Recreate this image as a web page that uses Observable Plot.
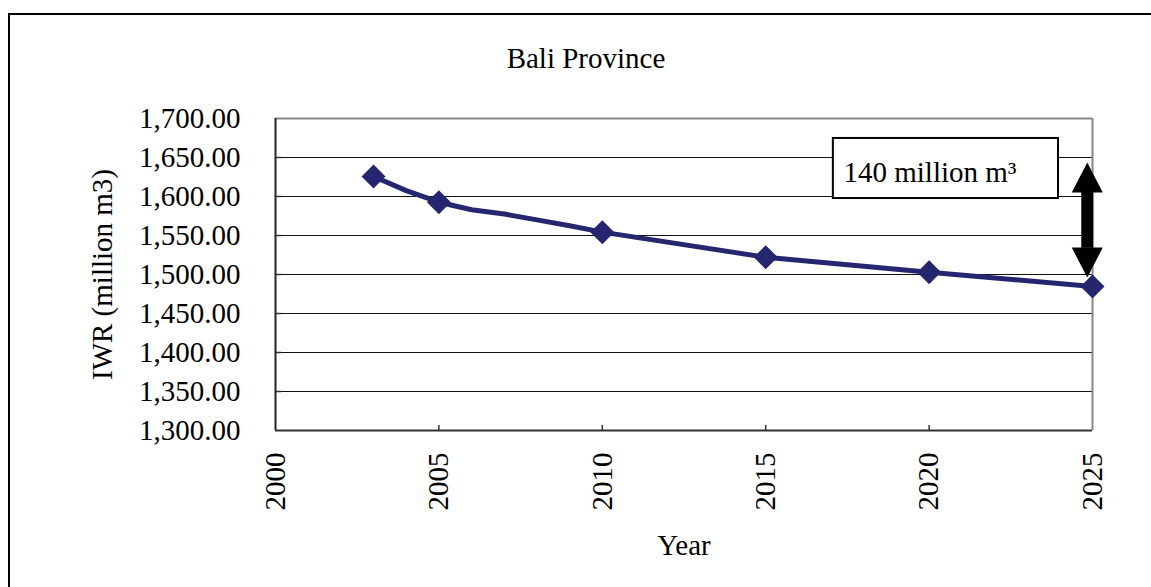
<!DOCTYPE html>
<html>
<head>
<meta charset="utf-8">
<script src="https://cdn.jsdelivr.net/npm/d3@7"></script>
<script src="https://cdn.jsdelivr.net/npm/@observablehq/plot@0.6"></script>
<style>
  html, body { margin: 0; padding: 0; background: #fff; overflow: hidden; }
  #wrap { position: relative; width: 1151px; height: 587px; overflow: hidden; font-family: "Liberation Serif", "Times New Roman", serif; }
  #frame { position: absolute; left: 8px; top: 13px; width: 1160px; height: 620px; border: 2px solid #000; box-sizing: border-box; }
  #title { position: absolute; left: 0; width: 1172px; top: 41px; text-align: center; font-size: 29px; line-height: 34px; color: #000; }
  #chart { position: absolute; left: 0; top: 0; }
</style>
</head>
<body>
<div id="wrap">
  <div id="frame"></div>
  <div id="title">Bali Province</div>
  <div id="chart"></div>
</div>
<script>
// ---- data ----
const years = [2003, 2004, 2005, 2006, 2007, 2008, 2009, 2010, 2015, 2020, 2025];
const iwr = [1625.6, 1607.5, 1592.7, 1583.0, 1577.5, 1570.0, 1562.5, 1554.3, 1522.2, 1503.0, 1484.6];
const markerYears = [2003, 2005, 2010, 2015, 2020, 2025];
const markerIWR = [1625.6, 1592.7, 1554.3, 1522.2, 1503.0, 1484.6];
const xTicks = [2000, 2005, 2010, 2015, 2020, 2025];
const yTicks = [1300, 1350, 1400, 1450, 1500, 1550, 1600, 1650, 1700];
const yLabel = "IWR (million m3)";
const xLabel = "Year";
// annotation (data units)
const noteText = "140 million m³";
const noteBox = {x1: 2017.07, x2: 2023.96, y1: 1597.4, y2: 1674.4};
const noteTextPos = {x: 2017.38, y: 1630.3};
const arrowX = 2024.84;
const arrowHeadTop = 1605.1;     // base of upper head
const arrowHeadBottom = 1534.6;  // base of lower head

const series = years.map((y, i) => ({year: y, value: iwr[i]}));
const markers = markerYears.map((y, i) => ({year: y, value: markerIWR[i]}));

const navy = "#262670";
const upHead = {draw(ctx, size) { const w = Math.sqrt(size); ctx.moveTo(0, -w * 0.97); ctx.lineTo(w / 2, 0); ctx.lineTo(-w / 2, 0); ctx.closePath(); }};
const downHead = {draw(ctx, size) { const w = Math.sqrt(size); ctx.moveTo(0, w * 0.97); ctx.lineTo(w / 2, 0); ctx.lineTo(-w / 2, 0); ctx.closePath(); }};

const chart = Plot.plot({
  width: 1151,
  height: 587,
  marginLeft: 275,
  marginRight: 59,
  marginTop: 118,
  marginBottom: 157,
  style: {fontFamily: "'Liberation Serif', 'Times New Roman', serif", fontSize: "29px", background: "transparent", color: "#000", overflow: "visible"},
  x: {domain: [2000, 2025]},
  y: {domain: [1300, 1700]},
  marks: [
    Plot.ruleY(yTicks.filter(d => d !== 1700 && d !== 1300), {stroke: "#111", strokeWidth: 1}),
    Plot.ruleY([1700], {stroke: "#888", strokeWidth: 2}),
    Plot.ruleX([2025], {stroke: "#888", strokeWidth: 2}),
    Plot.ruleX(xTicks.filter(d => d !== 2000 && d !== 2025), {y1: 1300, y2: 1306.5, stroke: "#333", strokeWidth: 1.5}),
    Plot.ruleY(yTicks.filter(d => d !== 1300 && d !== 1700), {x1: 2000, x2: 2000.18, stroke: "#333", strokeWidth: 1.5}),
    Plot.ruleX([2000], {stroke: "#222", strokeWidth: 2}),
    Plot.ruleY([1300], {stroke: "#333", strokeWidth: 2}),
    Plot.axisY({ticks: yTicks, tickSize: 0, tickPadding: 35, tickFormat: d3.format(",.2f"),
      label: yLabel, labelAnchor: "center", labelArrow: "none", labelOffset: 184}),
    Plot.axisX({ticks: xTicks, tickSize: 0, tickPadding: 22, tickRotate: -90, tickFormat: d => String(d),
      label: xLabel, labelAnchor: "center", labelArrow: "none", labelOffset: 124}),
    Plot.line(series, {x: "year", y: "value", stroke: navy, strokeWidth: 5, strokeLinejoin: "round"}),
    Plot.dot(markers, {x: "year", y: "value", symbol: "diamond2", r: 10.8, fill: navy, stroke: "none"}),
    Plot.rect([noteBox], {x1: "x1", x2: "x2", y1: "y1", y2: "y2", fill: "#fff", stroke: "#000", strokeWidth: 2}),
    Plot.text([noteTextPos], {x: "x", y: "y", text: () => noteText, textAnchor: "start", fontSize: 29, fill: "#000"}),
    Plot.ruleX([arrowX], {y1: arrowHeadBottom - 1, y2: arrowHeadTop + 1, stroke: "#000", strokeWidth: 12}),
    Plot.dot([{x: arrowX, y: arrowHeadTop}], {x: "x", y: "y", symbol: upHead, r: Math.sqrt(961 / Math.PI), fill: "#000", stroke: "none"}),
    Plot.dot([{x: arrowX, y: arrowHeadBottom}], {x: "x", y: "y", symbol: downHead, r: Math.sqrt(961 / Math.PI), fill: "#000", stroke: "none"})
  ]
});
document.getElementById("chart").appendChild(chart);
</script>
</body>
</html>
